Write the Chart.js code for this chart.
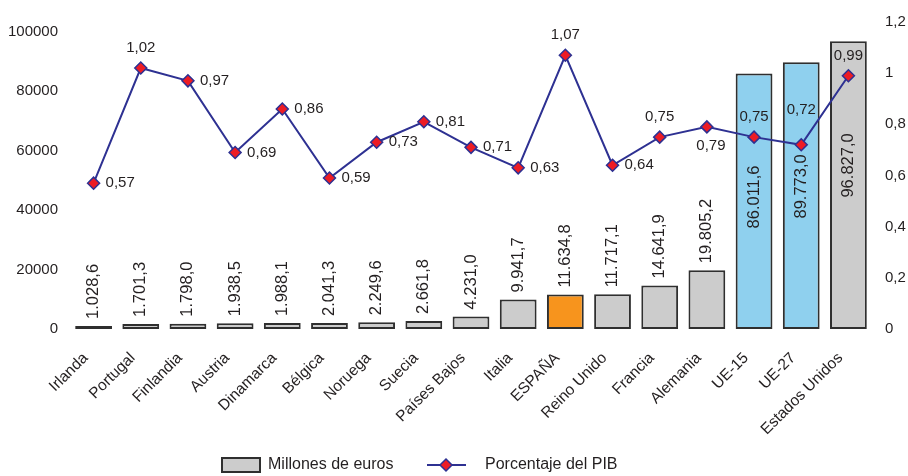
<!DOCTYPE html>
<html lang="es">
<head>
<meta charset="UTF-8">
<title>Gasto en I+D por país</title>
<script src="https://cdn.jsdelivr.net/npm/chart.js"></script>
<style>
    body { margin: 0; background: #fff; }
    #chart { display: block; }
</style>
</head>
<body>
<canvas id="chart" width="908" height="476"></canvas>
<script>
    // datos
    const paises = ['Irlanda', 'Portugal', 'Finlandia', 'Austria', 'Dinamarca', 'Bélgica', 'Noruega', 'Suecia',
        'Países Bajos', 'Italia', 'ESPAÑA', 'Reino Unido', 'Francia', 'Alemania', 'UE-15', 'UE-27', 'Estados Unidos'];
    const millonesEuros = [1028.6, 1701.3, 1798.0, 1938.5, 1988.1, 2041.3, 2249.6, 2661.8,
        4231.0, 9941.7, 11634.8, 11717.1, 14641.9, 19805.2, 86011.6, 89773.0, 96827.0];
    const porcentajePIB = [0.57, 1.02, 0.97, 0.69, 0.86, 0.59, 0.73, 0.81,
        0.71, 0.63, 1.07, 0.64, 0.75, 0.79, 0.75, 0.72, 0.99];
    const ticksIzq = [0, 20000, 40000, 60000, 80000, 100000];
    const ticksDer = [0, 0.2, 0.4, 0.6, 0.8, 1, 1.2];

    // donde va cada etiqueta del porcentaje
    const posEtiqueta = ['right', 'top', 'right', 'right', 'right', 'right', 'right', 'right',
        'right', 'right', 'top', 'right', 'top', 'bottom', 'top', 'topHigh', 'top'];

    const GRIS = '#cccccc', NARANJA = '#f7941d', AZUL = '#8fd0ee', BORDE = '#2f2f2f';
    const LINEA = '#2e3192', ROJO = '#ed1c24', TEXTO = '#231f20';
    const FUENTE = "'Liberation Sans', Arial, sans-serif";

    const coloresBarras = paises.map(p => p === 'ESPAÑA' ? NARANJA : (p.startsWith('UE-') ? AZUL : GRIS));

    function formatoMiles(v) {
        const partes = v.toFixed(1).split('.');
        return partes[0].replace(/\B(?=(\d{3})+(?!\d))/g, '.') + ',' + partes[1];
    }
    function formatoPct(v) {
        return v.toFixed(2).replace('.', ',');
    }

    const etiquetas = {
        id: 'etiquetas',
        afterDatasetDraw(chart, args) {
            if (args.index !== 0) return;
            const ctx = chart.ctx;
            ctx.save();
            ctx.font = '16.5px ' + FUENTE;
            ctx.fillStyle = TEXTO;
            ctx.textBaseline = 'middle';
            args.meta.data.forEach((bar, i) => {
                const dentro = millonesEuros[i] > 50000;
                ctx.save();
                ctx.translate(bar.x, dentro ? bar.y + 92 : bar.y - 7);
                ctx.rotate(-Math.PI / 2);
                ctx.textAlign = dentro ? 'right' : 'left';
                ctx.fillText(formatoMiles(millonesEuros[i]), 0, 0);
                ctx.restore();
            });
            ctx.restore();
        },
        afterDatasetsDraw(chart) {
            const ctx = chart.ctx;
            const puntos = chart.getDatasetMeta(1).data;
            ctx.save();
            ctx.font = '15px ' + FUENTE;
            ctx.fillStyle = TEXTO;
            ctx.textBaseline = 'middle';
            puntos.forEach((p, i) => {
                const txt = formatoPct(porcentajePIB[i]);
                const pos = posEtiqueta[i];
                if (pos === 'right') {
                    ctx.textAlign = 'left';
                    ctx.fillText(txt, p.x + 12, p.y);
                } else if (pos === 'bottom') {
                    ctx.textAlign = 'center';
                    ctx.fillText(txt, p.x + 4, p.y + 19);
                } else {
                    ctx.textAlign = 'center';
                    ctx.fillText(txt, p.x, p.y - (pos === 'topHigh' ? 35 : 20));
                }
            });
            ctx.restore();
        },
        afterDraw(chart) {
            // leyenda
            const ctx = chart.ctx;
            const y = 465;
            ctx.save();
            ctx.fillStyle = GRIS;
            ctx.strokeStyle = BORDE;
            ctx.lineWidth = 2;
            ctx.fillRect(222, y - 7, 38, 14);
            ctx.strokeRect(222, y - 7, 38, 14);
            ctx.strokeStyle = LINEA;
            ctx.beginPath();
            ctx.moveTo(427, y);
            ctx.lineTo(466, y);
            ctx.stroke();
            ctx.beginPath();
            ctx.moveTo(446, y - 6);
            ctx.lineTo(452, y);
            ctx.lineTo(446, y + 6);
            ctx.lineTo(440, y);
            ctx.closePath();
            ctx.fillStyle = ROJO;
            ctx.fill();
            ctx.lineWidth = 1.5;
            ctx.stroke();
            ctx.fillStyle = TEXTO;
            ctx.font = '16px ' + FUENTE;
            ctx.textBaseline = 'middle';
            ctx.textAlign = 'left';
            ctx.fillText('Millones de euros', 268, y);
            ctx.fillText('Porcentaje del PIB', 485, y);
            ctx.restore();
        }
    };

    Chart.defaults.font.family = FUENTE;
    Chart.defaults.color = TEXTO;

    new Chart(document.getElementById('chart'), {
        data: {
            labels: paises,
            datasets: [
                {
                    type: 'bar',
                    label: 'Millones de euros',
                    data: millonesEuros,
                    yAxisID: 'y',
                    backgroundColor: coloresBarras,
                    borderColor: BORDE,
                    borderWidth: 2,
                    borderSkipped: false,
                    barPercentage: 0.78,
                    categoryPercentage: 1,
                    order: 2
                },
                {
                    type: 'line',
                    label: 'Porcentaje del PIB',
                    data: porcentajePIB,
                    yAxisID: 'y1',
                    borderColor: LINEA,
                    borderWidth: 2,
                    pointStyle: 'rectRot',
                    pointRadius: 6,
                    pointBackgroundColor: ROJO,
                    pointBorderColor: LINEA,
                    pointBorderWidth: 1.5,
                    tension: 0,
                    order: 1
                }
            ]
        },
        options: {
            responsive: false,
            animation: false,
            layout: { padding: { top: 19, left: 0, right: 0, bottom: 0 } },
            plugins: { legend: { display: false }, tooltip: { enabled: false } },
            scales: {
                x: {
                    grid: { display: false, drawTicks: false },
                    border: { display: false },
                    ticks: { font: { size: 15.5 }, color: TEXTO, minRotation: 45, maxRotation: 45, autoSkip: false, padding: 20, labelOffset: -8 },
                    afterFit(s) { s.height = 147; }
                },
                y: {
                    position: 'left',
                    min: 0,
                    max: 103333,
                    grid: { display: false, drawTicks: false },
                    border: { display: false },
                    ticks: { font: { size: 15 }, color: TEXTO, padding: 12, callback: v => String(v) },
                    afterBuildTicks(s) { s.ticks = ticksIzq.map(v => ({ value: v })); },
                    afterFit(s) { s.width = 70; }
                },
                y1: {
                    position: 'right',
                    min: 0,
                    max: 1.2,
                    grid: { display: false, drawTicks: false },
                    border: { display: false },
                    ticks: { font: { size: 15 }, color: TEXTO, padding: 13, callback: v => String(v).replace('.', ',') },
                    afterBuildTicks(s) { s.ticks = ticksDer.map(v => ({ value: v })); },
                    afterFit(s) { s.width = 36; }
                }
            }
        },
        plugins: [etiquetas]
    });
</script>
</body>
</html>
